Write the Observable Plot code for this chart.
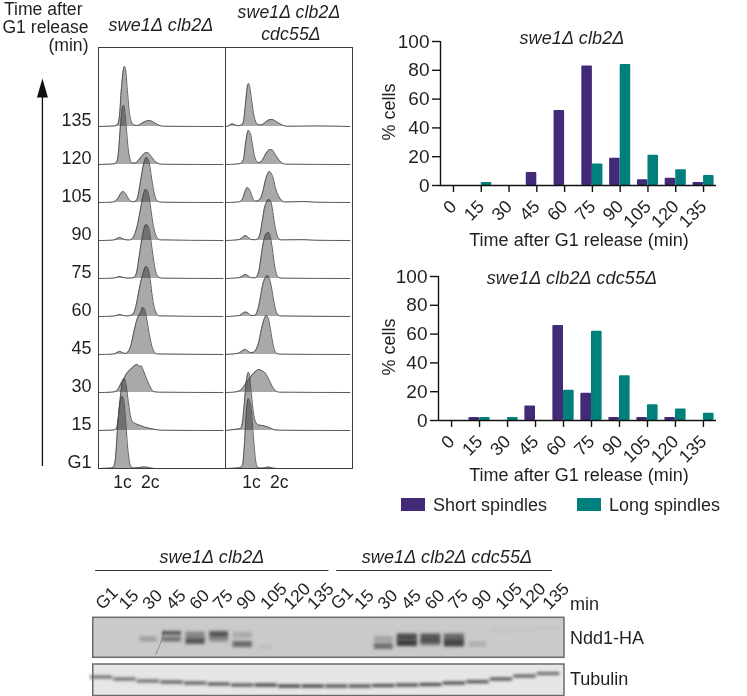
<!DOCTYPE html>
<html><head><meta charset="utf-8">
<script src="https://cdn.jsdelivr.net/npm/d3@7"></script>
<script src="https://cdn.jsdelivr.net/npm/@observablehq/plot@0.6"></script>
<style>
html,body{margin:0;padding:0;background:#fff}
#page{position:relative;width:747px;height:696px;overflow:hidden;font-family:"Liberation Sans",Arial,sans-serif;color:#231f20}
#page svg{position:absolute;overflow:visible;background:transparent}
.t{position:absolute;white-space:nowrap;line-height:1;font-size:18px}
.i{font-style:italic;letter-spacing:.15px}
.sw{position:absolute;width:24px;height:13px}
</style></head><body><div id="page"></div>
<script>
// ---------- spindle bar chart data ----------
const times = [0,15,30,45,60,75,90,105,120,135];
const shortTop = [0,0,0,9,52,83,19,4,5,2];
const longTop = [0,2,0,0,0,15,84,21,11,7];
const shortBottom = [0,2,0,10,66,19,2,2,2,0];
const longBottom = [0,2,2,0,21,62,31,11,8,5];
const purple = "#432a78", teal = "#00807c";

// ---------- DNA content histograms: [channel, cell count] ----------
const rowLabels = ["G1","15","30","45","60","75","90","105","120","135"];
const leftG1=[[0,0],[12,.4],[15,1.5],[17,10],[19,38],[21,62],[23,71],[24,72],[25,70],[27,52],[29,24],[31,7],[33,1.5],[36,.5],[41,1],[46,1.6],[52,.6],[58,0],[125,0]];
const left15=[[0,0],[15,.4],[18,2],[20,14],[22,34],[24,48],[26,52],[28,44],[30,28],[32,15],[35,8],[38,6.5],[42,5],[47,3.2],[52,2],[58,.8],[64,.2],[125,0]];
const left30=[[0,0],[12,.2],[17,1],[20,4],[23,10],[26,15],[29,20],[32,23],[35,26],[37,27.5],[39,28],[41,26],[43,26.5],[45,22],[47,17],[49,12],[52,5.5],[55,1],[60,.3],[125,0]];
const left45=[[0,0],[14,.3],[18,1.5],[21,3],[24,2],[27,1],[29,2],[31,5],[33,11],[35,20],[37,29],[39,36],[41,40],[43,44],[44,47],[46,46],[48,38],[50,26],[52,15],[54,7],[56,2.5],[59,.5],[125,0]];
const left60=[[0,0],[14,.3],[18,1],[21,2],[24,1.2],[28,.5],[32,1],[35,3],[37,8],[39,17],[41,28],[43,37],[45,44],[47,49.5],[48,50],[50,47],[52,36],[54,20],[56,9],[58,3.5],[61,.6],[125,0]];
const left75=[[0,0],[14,.3],[18,1],[21,2],[24,1.2],[28,.4],[33,.4],[36,1.2],[38,5],[40,16],[42,30],[44,42],[46,51],[48,54],[50,52],[52,42],[54,28],[56,14],[58,5],[60,1.5],[64,.3],[125,0]];
const left90=[[0,0],[14,.3],[18,1.5],[21,3],[24,2],[27,.7],[31,.5],[34,2],[37,8],[39,15],[41,25],[43,36],[45,46],[47,51],[49,50],[51,42],[53,28],[55,15],[57,7],[59,2.5],[62,.6],[125,0]];
const left105=[[0,0],[14,.3],[17,1.5],[20,5],[23,10],[25,11],[27,9],[30,4],[33,1],[35,.6],[38,2],[40,8],[42,20],[44,32],[46,41],[48,45],[50,43],[52,33],[54,20],[56,9],[58,3],[61,.6],[66,.2],[125,0]];
const left120=[[0,0],[15,.5],[18,2],[20,12],[22,38],[24,57],[25,59],[26,57],[28,36],[30,14],[32,4],[34,1.5],[37,1.5],[40,4],[44,9],[48,12],[50,11.5],[53,8],[56,4],[60,1],[64,.2],[125,0]];
const left135=[[0,0],[16,.5],[19,2],[21,10],[23,38],[25,57],[26,60],[27,58],[29,36],[31,14],[33,5],[35,2],[38,1],[41,1.5],[44,3.5],[48,5.5],[51,6],[54,5],[58,2.5],[62,.8],[66,.2],[125,0]];
const rightG1=[[0,0],[8,.3],[14,.8],[17,3],[19,24],[21,58],[22,67],[23,70],[24,68],[26,58],[28,32],[30,10],[32,1.5],[35,.4],[40,.8],[43,1.5],[47,.6],[52,0],[125,0]];
const right15=[[0,0],[5,.5],[12,1.5],[15,2],[17,8],[19,28],[21,50],[23,58],[24,56],[26,36],[28,18],[30,9],[33,5.5],[37,5],[41,4],[45,2.5],[50,.5],[58,.2],[125,0]];
const right30=[[0,0],[8,.3],[12,1],[16,3],[19,7],[21,10],[24,14],[27,18],[30,21],[32,22.5],[34,23],[37,21.5],[39,20.5],[41,18],[44,12],[47,6],[50,2],[54,.3],[125,0]];
const right45=[[0,0],[6,.4],[12,1],[16,3],[18,4.5],[20,5],[22,3.8],[25,2],[28,2.2],[30,4],[32,8],[34,15],[36,25],[38,33],[40,38],[41,39],[43,36],[45,26],[47,14],[49,5],[51,1.2],[55,.3],[125,0]];
const right60=[[0,0],[8,.3],[14,1],[17,3],[20,4.5],[23,3.2],[26,1],[29,1],[31,3],[33,9],[35,19],[37,30],[39,37],[41,40],[42,41],[44,38],[46,30],[48,18],[50,8],[52,2.5],[55,.5],[125,0]];
const right75=[[0,0],[8,.3],[14,.8],[17,2.5],[20,4],[23,2.5],[26,.8],[30,.8],[32,3],[34,10],[36,24],[38,36],[40,43],[42,45.5],[43,46],[45,42],[47,30],[49,15],[51,5],[53,1.2],[57,.3],[125,0]];
const right90=[[0,0],[8,.3],[14,1],[17,3],[20,5],[23,3],[26,1],[30,.7],[33,2.5],[35,8],[37,20],[39,32],[41,38],[43,41],[45,40],[47,32],[49,18],[51,8],[53,2.5],[56,.6],[78,.8],[90,.2],[125,0]];
const right105=[[0,0],[10,.3],[15,1],[18,6],[20,12],[22,15],[24,13],[26,8],[28,3],[30,1.2],[33,2],[36,6],[38,13],[40,22],[42,28],[44,31],[46,29],[48,24],[50,15],[53,7],[56,2.5],[60,.4],[78,1],[90,.3],[125,0]];
const right120=[[0,0],[10,.3],[15,1],[18,5],[20,20],[22,32],[23,34],[25,31],[27,20],[29,9],[31,3.5],[33,2],[36,3],[39,8],[42,13],[45,15],[47,14.5],[50,10],[53,5.5],[56,2],[60,.3],[125,0]];
const right135=[[0,0],[3,.5],[5,2],[7,2.5],[10,1.5],[13,.7],[16,1.5],[18,5],[20,22],[22,40],[23,43],[24,41],[26,28],[28,14],[30,5.5],[32,2.5],[35,1.5],[38,2.5],[41,5],[44,6.8],[47,7],[50,5.5],[54,3],[58,1],[62,.2],[90,.5],[125,0]];
const leftTraces=[leftG1,left15,left30,left45,left60,left75,left90,left105,left120,left135];
const rightTraces=[rightG1,right15,right30,right45,right60,right75,right90,right105,right120,right135];
const rowStep = 38;

// ---------- western blots: [lane, row, lane width, thickness, darkness] ----------
const laneLabels = ["G1","15","30","45","60","75","90","105","120","135","G1","15","30","45","60","75","90","105","120","135"];
const nddBands=[[2,99,.72,5,.25],[3,93,.8,4,.65],[3,99,.8,5,.5],[4,95,.82,7,.38],[4,101,.82,6,.65],[5,94,.8,6,.65],[5,99,.8,5,.38],[6,95,.8,6,.18],[6,104,.82,6,.55],[7,107,.6,3,.08],
[12,99,.8,6,.22],[12,106,.8,6,.5],[13,97,.85,7,.72],[13,103,.85,6,.8],[14,98,.85,9,.65],[14,103,.85,5,.4],[15,97,.85,7,.55],[15,103,.85,7,.75],[16,104,.75,6,.14],[17,91,.8,1.5,.08],[18,90,.8,1.5,.07],[19,88,.8,1.5,.05]];
const tubulinRows=[137,139,141,142,143,144,145,145,146,146,146,146,145.5,145,144.5,143,141.7,139,136,133.5];
const tubulinDark=[.62,.62,.62,.7,.7,.75,.75,.85,.85,.85,.78,.78,.78,.8,.8,.8,.75,.75,.7,.62];
const smear=[[2.3,114],[2.52,102],[2.68,90]];

const page=document.getElementById("page");
const place=(el,left,top)=>{el.style.left=left+"px";el.style.top=top+"px";page.appendChild(el);return el;};
function label(text,x,y,{anchor="center",italic=false,size=null,rotate=0}={}){
  const d=document.createElement("div");d.className="t"+(italic?" i":"");d.textContent=text;
  if(size)d.style.fontSize=size+"px";
  const tx=anchor==="center"?"-50%":anchor==="end"?"-100%":"0";
  d.style.transform=`translate(${tx},-50%)`+(rotate?` rotate(${rotate}deg)`:"");
  return place(d,x,y);
}
const INK="#231f20", FONT='"Liberation Sans",Arial,sans-serif';

// ---------- histograms ----------
const rows=[];
[["a",leftTraces],["b",rightTraces]].forEach(([panel,traces])=>traces.forEach((tr,r)=>tr.forEach(([c,h])=>
  rows.push({panel,key:panel+r,c,base:r*rowStep,top:r*rowStep+h}))));
const arrowHead={draw(ctx){ctx.moveTo(0,-19);ctx.lineTo(5.5,0);ctx.lineTo(-5.5,0);ctx.closePath();}};
const hist=Plot.plot({
  width:355,height:493,marginLeft:97.5,marginRight:2,marginTop:47,marginBottom:25,
  style:{background:"transparent",color:INK,fontFamily:FONT},
  fx:{axis:null,domain:["a","b"],padding:0},
  x:{axis:null,domain:[0,127.5]},
  y:{axis:null,domain:[0,421]},
  marks:[
    Plot.areaY(rows,{x:"c",y1:"base",y2:"top",z:"key",fx:"panel",fill:"#a9a9a9",curve:"monotone-x",mixBlendMode:"multiply"}),
    Plot.line(rows,{x:"c",y:"top",z:"key",fx:"panel",stroke:"#4a4a4a",strokeWidth:.9,curve:"monotone-x"}),
    Plot.frame({stroke:"#3c3c3c",strokeWidth:1}),
    Plot.axisY(d3.range(rowLabels.length).map(i=>i*rowStep),{anchor:"left",tickSize:0,tickPadding:7,dy:-6,fontSize:18,tickFormat:d=>rowLabels[d/rowStep],label:null,facetAnchor:"left"}),
    Plot.text([{c:24,p:"a",s:"1c"},{c:52,p:"a",s:"2c"},{c:26,p:"b",s:"1c"},{c:54,p:"b",s:"2c"}],{x:"c",y:()=>0,fx:"p",text:"s",dy:14,fontSize:17.5,fill:INK}),
    Plot.ruleX([{x:-56.3,p:"a"}],{x:"x",y1:2,y2:372,fx:"p",stroke:"#111",strokeWidth:1.3}),
    Plot.dot([{x:-56.3,y:371,p:"a"}],{x:"x",y:"y",fx:"p",symbol:arrowHead,fill:"#111",r:5})
  ]
});
place(hist,0,0);
label("Time after",82.5,10,{anchor:"end",size:17.6});
label("G1 release",88.5,28,{anchor:"end",size:17.6});
label("(min)",88.5,46,{anchor:"end",size:17.6});
label("swe1Δ clb2Δ",161,25,{italic:true});
label("swe1Δ clb2Δ",289,12.5,{italic:true,size:17.6});
label("cdc55Δ",291,35,{italic:true,size:17.6});

// ---------- bar charts ----------
const halfBar=5.7;
function bars(shortVals,longVals,inner,left,top){
  const data=times.flatMap((t,i)=>[
    {x1:t-halfBar,x2:t,v:shortVals[i],s:"Short"},
    {x1:t,x2:t+halfBar,v:longVals[i],s:"Long"}]).filter(d=>d.v>0);
  const svg=Plot.plot({
    width:65+inner+31,height:255,marginLeft:65,marginRight:31,marginTop:41,marginBottom:70,
    style:{background:"transparent",color:INK,fontFamily:FONT},
    x:{domain:[-7,142],axis:null},
    y:{domain:[0,100],axis:null},
    color:{domain:["Short","Long"],range:[purple,teal]},
    marks:[
      Plot.rectY(data,{x1:"x1",x2:"x2",y:"v",fill:"s",rx:1}),
      Plot.axisY({ticks:[0,20,40,60,80,100],tickSize:8,tickPadding:3,fontSize:19,label:null,strokeWidth:1.4,stroke:"#111"}),
      Plot.axisX({ticks:times,tickSize:7,tickPadding:11,tickRotate:-45,fontSize:18,label:null,strokeWidth:1.4,stroke:"#111",tickFormat:d=>d}),
      Plot.ruleY([0],{stroke:"#111",strokeWidth:1.4}),
      Plot.ruleX([-7],{stroke:"#111",strokeWidth:1.4})
    ]
  });
  return place(svg,left,top);
}
bars(shortTop,longTop,276,375,0);
bars(shortBottom,longBottom,278,373,235);
label("swe1Δ clb2Δ",572,38,{italic:true});
label("swe1Δ clb2Δ cdc55Δ",572,278,{italic:true});
label("% cells",389,112,{rotate:-90});
label("% cells",389,347,{rotate:-90});
label("Time after G1 release (min)",579,240);
label("Time after G1 release (min)",579,475);
// legend
const sw=(c,x,y)=>{const d=document.createElement("div");d.className="sw";d.style.background=c;place(d,x,y);};
sw(purple,401,498);label("Short spindles",433,505,{anchor:"start"});
sw(teal,577,498);label("Long spindles",609,505,{anchor:"start"});

// ---------- blots ----------
const lanes=laneLabels.map((s,i)=>({i,s}));
const tub=tubulinRows.map((r,i)=>[i,r,.95,3,tubulinDark[i]]);
const rect=a=>({x1:a[0]-a[2]/2,x2:a[0]+a[2]/2,y1:a[1]-a[3]/2,y2:a[1]+a[3]/2,o:a[4]});
const blot=Plot.plot({
  width:747,height:156,margin:0,
  style:{background:"transparent",color:INK,fontFamily:FONT},
  x:{axis:null,domain:[-4.293,27.46]},
  y:{axis:null,domain:[156,0]},
  marks:[
    Plot.rect([{a:-.35,b:19.68,t:77.3,u:117.3}],{x1:"a",x2:"b",y1:"t",y2:"u",fill:"#cacaca"}),
    Plot.rect([{a:-.35,b:19.68,t:124,u:155.5}],{x1:"a",x2:"b",y1:"t",y2:"u",fill:"#e6e6e6"}),
    Plot.rect(nddBands.concat(tub).map(rect),{x1:"x1",x2:"x2",y1:"y1",y2:"y2",fill:"#1a1a1a",fillOpacity:"o"}),
    Plot.line(smear,{x:"0",y:"1",stroke:"#333",strokeWidth:.8,strokeOpacity:.5,curve:"natural"}),
    Plot.rect([{a:-.35,b:19.68,t:77.3,u:117.3},{a:-.35,b:19.68,t:124,u:155.5}],{x1:"a",x2:"b",y1:"t",y2:"u",fill:"none",stroke:"#6b6b6b",strokeWidth:1.5}),
    Plot.text(lanes,{x:"i",y:()=>66,text:"s",rotate:-45,textAnchor:"start",dx:-3,fontSize:17.5,fill:INK}),
    Plot.ruleY([{a:-.25,b:9.67,y:30},{a:10,b:19.17,y:30}],{x1:"a",x2:"b",y:"y",stroke:"#333",strokeWidth:1})
  ]
});
d3.select(blot).selectAll("rect[fill-opacity]").style("filter","blur(1.6px)");
place(blot,0,540);
label("swe1Δ clb2Δ",212,557,{italic:true});
label("swe1Δ clb2Δ cdc55Δ",447,557,{italic:true});
label("min",570,604,{anchor:"start"});
label("Ndd1-HA",570,638,{anchor:"start"});
label("Tubulin",570,679,{anchor:"start"});
</script></body></html>
